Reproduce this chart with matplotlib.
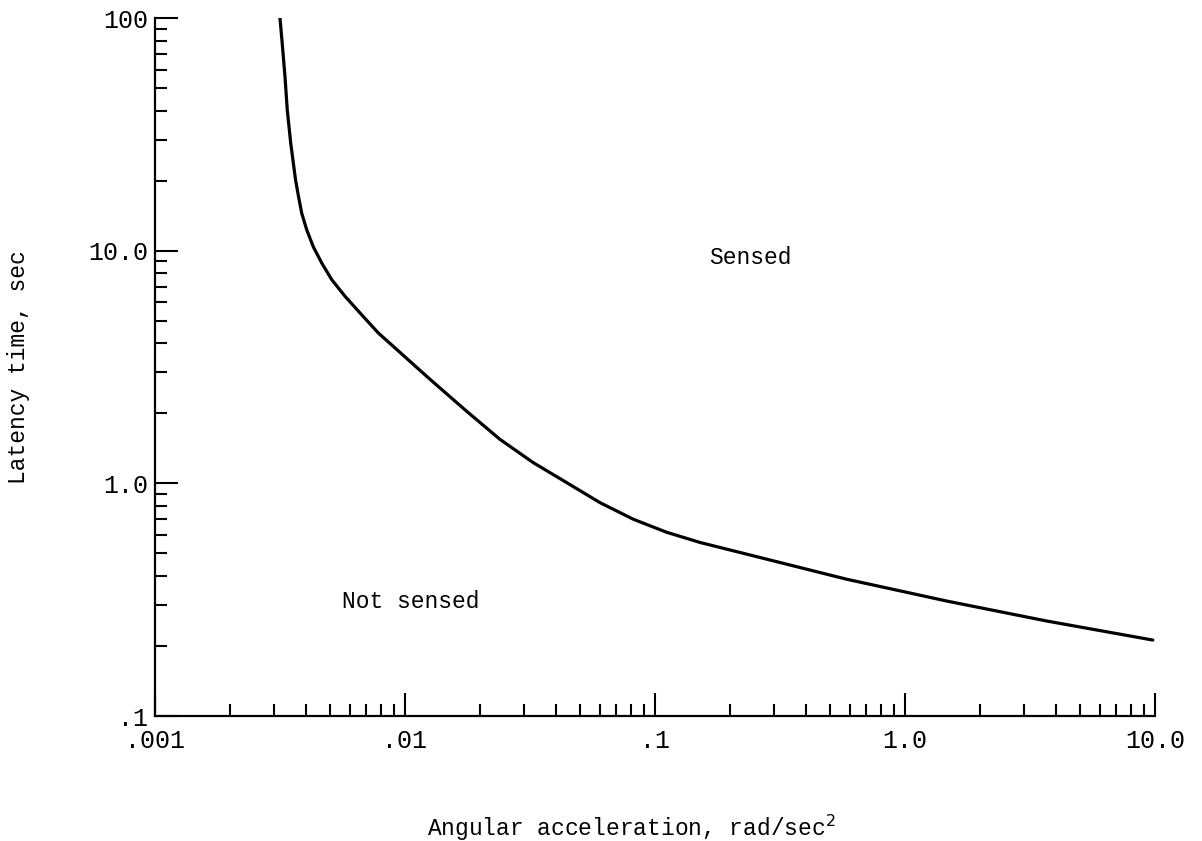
import matplotlib
matplotlib.use("Agg")
import matplotlib.pyplot as plt
from matplotlib.ticker import FixedLocator, LogLocator, NullFormatter

# Data (latency threshold curve)
accel = [0.003162, 0.003227, 0.003311, 0.003381, 0.003489, 0.003648, 0.003750,
         0.003862, 0.004044, 0.004296, 0.004642, 0.005090, 0.005754, 0.006607,
         0.007817, 0.01259, 0.01765, 0.02399, 0.03259, 0.04434, 0.06026,
         0.08187, 0.1114, 0.1514, 0.233, 0.585, 1.468, 3.69, 9.8]
latency = [100.0, 77.9, 56.0, 40.3, 29.1, 20.2, 17.1,
           14.5, 12.3, 10.4, 8.86, 7.51, 6.37, 5.40,
           4.43, 2.80, 2.04, 1.545, 1.227, 1.007, 0.826,
           0.701, 0.616, 0.557, 0.496, 0.387, 0.312, 0.256, 0.212]

x_ticks = [0.001, 0.01, 0.1, 1.0, 10.0]
x_tick_labels = [".001", ".01", ".1", "1.0", "10.0"]
y_ticks = [0.1, 1.0, 10.0, 100.0]
y_tick_labels = [".1", "1.0", "10.0", "100"]

plt.rcParams['font.family'] = ['Liberation Mono', 'DejaVu Sans Mono']

fig = plt.figure(figsize=(12.02, 8.41), dpi=100)
ax = fig.add_axes([155/1202, 1 - 716/841, 1000/1202, 698/841])

ax.plot(accel, latency, color='black', lw=2.3, solid_joinstyle='round',
        solid_capstyle='round')

ax.set_xscale('log')
ax.set_yscale('log')
ax.set_xlim(0.001, 10.0)
ax.set_ylim(0.1, 100.0)

ax.xaxis.set_major_locator(FixedLocator(x_ticks))
ax.set_xticklabels(x_tick_labels)
ax.yaxis.set_major_locator(FixedLocator(y_ticks))
ax.set_yticklabels(y_tick_labels)
ax.xaxis.set_minor_locator(LogLocator(base=10, subs=range(2, 10)))
ax.yaxis.set_minor_locator(LogLocator(base=10, subs=range(2, 10)))
ax.xaxis.set_minor_formatter(NullFormatter())
ax.yaxis.set_minor_formatter(NullFormatter())

for s in ['top', 'right']:
    ax.spines[s].set_visible(False)
for s in ['left', 'bottom']:
    ax.spines[s].set_linewidth(1.6)

ax.tick_params(which='major', direction='in', length=16.5, width=1.5, labelsize=18)
ax.tick_params(which='minor', direction='in', length=8.5, width=1.5)
ax.tick_params(axis='x', which='major', pad=9)
ax.tick_params(axis='y', which='major', pad=5)

ax.set_xlabel("Angular acceleration, rad/sec$^2$", fontsize=16.5)
ax.xaxis.set_label_coords(0.476, -0.138)
ax.set_ylabel("Latency time, sec", fontsize=16.5)
ax.yaxis.set_label_coords(-0.125, 0.50)

ax.text(0.24, 9.3, "Sensed", fontsize=16.5, ha='center', va='center')
ax.text(0.0105, 0.312, "Not sensed", fontsize=16.5, ha='center', va='center')

fig.savefig("out.png", dpi=100)
